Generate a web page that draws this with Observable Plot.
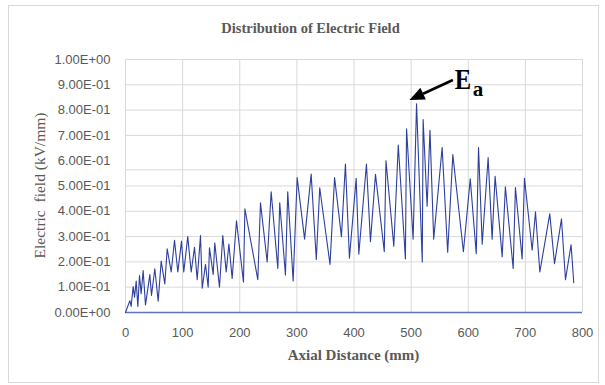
<!DOCTYPE html>
<html><head><meta charset="utf-8">
<script src="https://cdn.jsdelivr.net/npm/d3@7"></script>
<script src="https://cdn.jsdelivr.net/npm/@observablehq/plot@0.6"></script>
<style>body{margin:0;background:#fff;}</style>
</head><body><div id="chart"></div>
<script>
// Axial distance (mm)
const distance = [0, 7.6, 9.9, 13.4, 15.8, 18.7, 21.6, 24.5, 27.4, 30.9, 35, 42.6, 45.5, 51.3, 57.2, 62.5, 68.8, 73, 80, 85.8, 91.6, 98, 102, 109, 115, 120.8, 125.5, 131.3, 134.3, 140, 144.7, 147, 153.5, 156.3, 164.5, 170.3, 176.3, 181, 186.7, 194.3, 206.5, 209, 231.6, 236.3, 248, 255, 266.6, 270, 280, 284, 293.5, 300.5, 313.5, 325, 334, 340, 358, 366, 378, 385, 392, 403.8, 408.4, 421.8, 428.8, 437.6, 453, 456, 469.7, 477.5, 490, 492, 503.5, 509.5, 519.5, 521, 528, 533, 539.5, 554.3, 564, 573, 591.5, 603.5, 614, 618, 624.4, 634.8, 641.8, 647, 659.4, 665, 678.6, 682.6, 694.3, 698.4, 711.9, 717.7, 725.3, 742.7, 751, 763.2, 770.2, 780, 784.7];
// Electric field (kV/mm)
const field = [0, 0.047, 0.024, 0.103, 0.06, 0.124, 0.024, 0.146, 0.074, 0.166, 0.03, 0.15, 0.067, 0.173, 0.045, 0.203, 0.113, 0.252, 0.16, 0.285, 0.16, 0.282, 0.16, 0.3, 0.16, 0.258, 0.13, 0.304, 0.096, 0.19, 0.1, 0.256, 0.15, 0.275, 0.1, 0.304, 0.16, 0.271, 0.135, 0.362, 0.12, 0.41, 0.13, 0.434, 0.2, 0.477, 0.174, 0.434, 0.148, 0.477, 0.125, 0.533, 0.29, 0.547, 0.21, 0.493, 0.19, 0.533, 0.3, 0.587, 0.215, 0.53, 0.23, 0.587, 0.28, 0.546, 0.24, 0.6, 0.262, 0.662, 0.212, 0.726, 0.29, 0.825, 0.2, 0.763, 0.42, 0.72, 0.29, 0.652, 0.238, 0.624, 0.24, 0.528, 0.232, 0.652, 0.27, 0.612, 0.29, 0.538, 0.22, 0.497, 0.174, 0.494, 0.212, 0.53, 0.246, 0.398, 0.16, 0.39, 0.193, 0.37, 0.13, 0.268, 0.118];

const xTicks = [0, 100, 200, 300, 400, 500, 600, 700, 800];
const yTicks = [0, 0.1, 0.2, 0.3, 0.4, 0.5, 0.6, 0.7, 0.8, 0.9, 1.0];
const gridY = [0.1, 0.2, 0.3, 0.4, 0.5, 0.564, 0.7, 0.8, 0.9, 1.0];

const titleText = "Distribution of Electric Field";
const xLabel = "Axial Distance (mm)";
const yLabel = "Electric  field (kV/mm)";
// annotation: arrow tail/tip in data units, label
const annotation = {x1: 574, y1: 0.917, x2: 498, y2: 0.838, main: "E", sub: "a"};

function sci(d) {
  if (d === 0) return "0.00E+00";
  const e = Math.floor(Math.log10(d) + 1e-9);
  const m = d / Math.pow(10, e);
  return m.toFixed(2) + "E" + (e < 0 ? "-" : "+") + String(Math.abs(e)).padStart(2, "0");
}

const data = distance.map((d, i) => ({x: d, y: field[i]}));

const chart = Plot.plot({
  width: 605,
  height: 385,
  marginLeft: 125,
  marginRight: 23,
  marginTop: 59,
  marginBottom: 73,
  style: {fontFamily: "'Liberation Sans', Arial, sans-serif", fontSize: "13px", color: "#595959", background: "white"},
  x: {domain: [0, 800]},
  y: {domain: [0, 1]},
  marks: [
    Plot.ruleX(xTicks, {stroke: "#d9d9d9", strokeWidth: 1, strokeOpacity: 1}),
    Plot.ruleY(gridY, {stroke: "#d9d9d9", strokeWidth: 1, strokeOpacity: 1}),
    Plot.ruleY([0], {stroke: "#6272c0", strokeWidth: 1.6}),
    Plot.line(data, {x: "x", y: "y", stroke: "#2e3f9e", strokeWidth: 1.1}),
    Plot.axisX({ticks: xTicks, tickSize: 0, tickPadding: 15, label: null, tickFormat: d => String(d), fill: "#595959"}),
    Plot.axisY({ticks: yTicks, tickSize: 0, tickPadding: 15, label: null, tickFormat: sci, fill: "#595959"})
  ]
});

document.getElementById("chart").appendChild(chart);

const svg = d3.select(chart);
const sx = chart.scale("x"), sy = chart.scale("y");

// outer chart border
svg.insert("rect", ":first-child")
  .attr("x", 8.5).attr("y", 5.5).attr("width", 590).attr("height", 377)
  .attr("fill", "white").attr("stroke", "#d9d9d9").attr("stroke-width", 1);

const serif = "'Liberation Serif', 'Times New Roman', serif";

// title
svg.append("text").text(titleText)
  .attr("x", 310.5).attr("y", 33).attr("text-anchor", "middle")
  .attr("font-family", serif)
  .attr("font-weight", "bold").attr("font-size", 14.5).attr("fill", "#595959");

// x label
svg.append("text").text(xLabel)
  .attr("x", 353.5).attr("y", 360).attr("text-anchor", "middle")
  .attr("font-family", serif)
  .attr("font-weight", "bold").attr("font-size", 15).attr("fill", "#595959");

// y label
svg.append("text").text(yLabel)
  .attr("transform", "translate(44.5,185.5) rotate(-90)")
  .attr("text-anchor", "middle").attr("xml:space", "preserve").style("white-space", "pre")
  .attr("font-family", serif)
  .attr("font-size", 15.5).attr("fill", "#595959");

// arrow
const ax1 = sx.apply(annotation.x1), ay1 = sy.apply(annotation.y1);
const ax2 = sx.apply(annotation.x2), ay2 = sy.apply(annotation.y2);
const ang = Math.atan2(ay2 - ay1, ax2 - ax1);
const hl = 15, hw = 6.5;
const bx = ax2 - hl * Math.cos(ang), by = ay2 - hl * Math.sin(ang);
svg.append("line").attr("x1", ax1).attr("y1", ay1).attr("x2", bx).attr("y2", by)
  .attr("stroke", "black").attr("stroke-width", 2.6);
svg.append("polygon")
  .attr("points", [
    [ax2, ay2],
    [bx + hw * Math.sin(ang), by - hw * Math.cos(ang)],
    [bx - hw * Math.sin(ang), by + hw * Math.cos(ang)]
  ].map(p => p.join(",")).join(" "))
  .attr("fill", "black");

// E_a label
svg.append("text").text(annotation.main)
  .attr("transform", "translate(463,88.5) scale(0.82,1)")
  .attr("font-family", serif).attr("font-weight", "bold")
  .attr("font-size", 30).attr("fill", "black");
svg.append("text").text(annotation.sub)
  .attr("x", 478).attr("y", 95.5)
  .attr("font-family", serif).attr("font-weight", "bold")
  .attr("font-size", 21).attr("fill", "black");
</script>
</body></html>
